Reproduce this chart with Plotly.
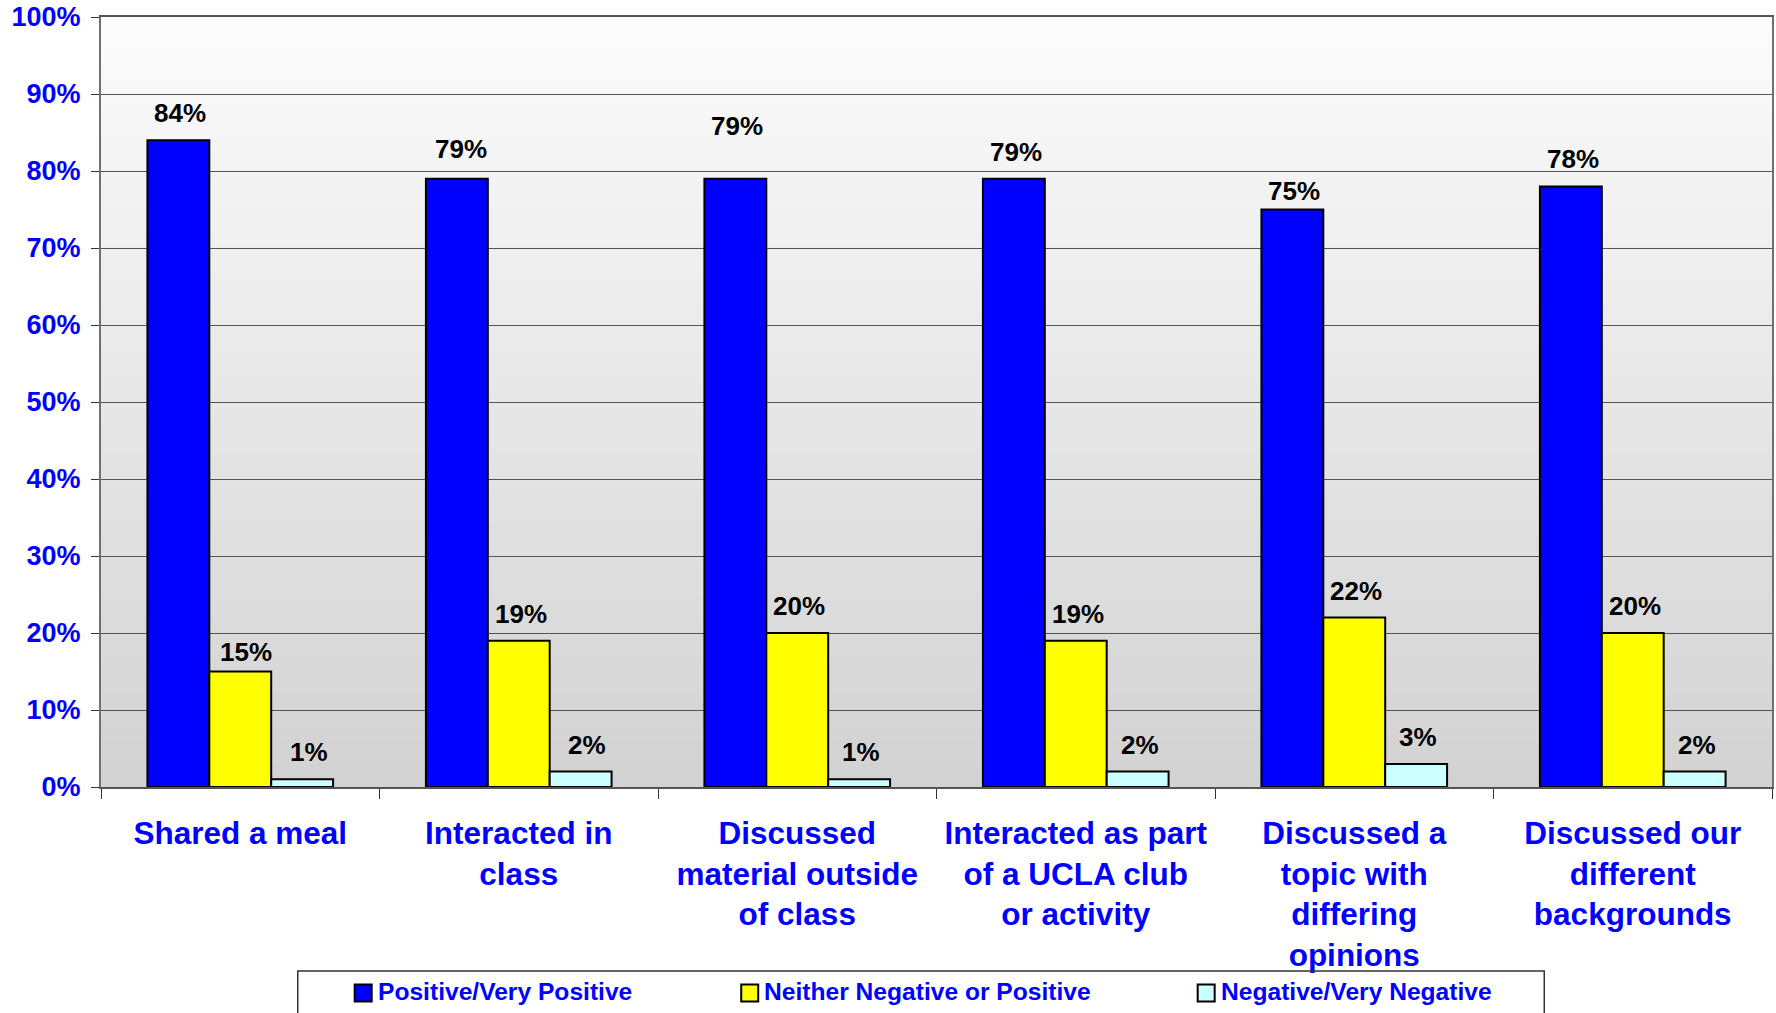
import plotly.graph_objects as go

# Survey responses: share of students per rating, by type of interaction
categories = [
    "Shared a meal",
    "Interacted in<br>class",
    "Discussed<br>material outside<br>of class",
    "Interacted as part<br>of a UCLA club<br>or activity",
    "Discussed a<br>topic with<br>differing<br>opinions",
    "Discussed our<br>different<br>backgrounds",
]
series_names = [
    "Positive/Very Positive",
    "Neither Negative or Positive",
    "Negative/Very Negative",
]
positive = [0.84, 0.79, 0.79, 0.79, 0.75, 0.78]
neither = [0.15, 0.19, 0.20, 0.19, 0.22, 0.20]
negative = [0.01, 0.02, 0.01, 0.02, 0.03, 0.02]
y_ticks = [0.0, 0.1, 0.2, 0.3, 0.4, 0.5, 0.6, 0.7, 0.8, 0.9, 1.0]

series_values = [positive, neither, negative]
series_colors = ["#0000FF", "#FFFF00", "#CCFFFF"]

FONT = "Liberation Sans, Arial, Helvetica, sans-serif"
BLUE_TEXT = "#0000FF"

W, H = 1776, 1013
M_L, M_R, M_T, M_B = 101, 2, 17, 226
PLOT_W = W - M_L - M_R
PLOT_H = H - M_T - M_B
BARGAP = 1 / 3

# Hand-placed value labels: (series, category) -> (dx, dy) in pixels
label_nudges = {
    (0, 1): (4, 3),
    (0, 2): (2, 26),
    (0, 4): (2, -8),
    (1, 0): (6, -7),
    (2, 0): (7, 0),
    (2, 1): (6, 0),
}


def px_to_paper_x(px):
    return (px - M_L) / PLOT_W


def px_to_paper_y(py):
    return (H - M_B - py) / PLOT_H


fig = go.Figure()

for name, vals, color in zip(series_names, series_values, series_colors):
    fig.add_trace(
        go.Bar(
            name=name,
            x=categories,
            y=vals,
            marker=dict(color=color, line=dict(color="#000000", width=2)),
            showlegend=False,
            hoverinfo="skip",
        )
    )

# Value labels above each bar
bar_w = (1 - BARGAP) / len(series_values)
annotations = []
for s, vals in enumerate(series_values):
    offset = (s - (len(series_values) - 1) / 2) * bar_w
    for i, v in enumerate(vals):
        dx, dy = label_nudges.get((s, i), (2, 0))
        annotations.append(
            dict(
                x=i + offset,
                y=v,
                xref="x",
                yref="y",
                text=f"{v:.0%}",
                showarrow=False,
                yanchor="middle",
                xshift=dx,
                yshift=27 + dy,
                font=dict(family=FONT, size=26, color="#000000", weight="bold"),
            )
        )

# Vertical gradient in the plotting area (white at top to light gray at bottom)
shapes = []
N_STRIPS = 64
top_level, bottom_level = 252, 210
for k in range(N_STRIPS):
    t = (k + 0.5) / N_STRIPS
    g = round(bottom_level + t * (top_level - bottom_level))
    shapes.append(
        dict(
            type="rect",
            xref="x domain",
            yref="y domain",
            x0=0,
            x1=1,
            y0=k / N_STRIPS,
            y1=1,
            fillcolor=f"rgb({g},{g},{g})",
            line=dict(width=0),
            layer="below",
        )
    )

# Legend drawn as a framed box with square swatches
legend_box = dict(x0=298, x1=1546, y0=971, y1=1040)
shapes.append(
    dict(
        type="rect",
        xref="paper",
        yref="paper",
        x0=px_to_paper_x(legend_box["x0"]),
        x1=px_to_paper_x(legend_box["x1"]),
        y0=px_to_paper_y(legend_box["y1"]),
        y1=px_to_paper_y(legend_box["y0"]),
        fillcolor="rgba(0,0,0,0)",
        line=dict(color="#333333", width=1.5),
        layer="above",
    )
)
legend_swatch_x = [355, 742, 1199]
swatch_size = 17
legend_mid_y = 993
for name, color, sx in zip(series_names, series_colors, legend_swatch_x):
    shapes.append(
        dict(
            type="rect",
            xref="paper",
            yref="paper",
            x0=px_to_paper_x(sx),
            x1=px_to_paper_x(sx + swatch_size),
            y0=px_to_paper_y(legend_mid_y + swatch_size / 2),
            y1=px_to_paper_y(legend_mid_y - swatch_size / 2),
            fillcolor=color,
            line=dict(color="#000000", width=2),
            layer="above",
        )
    )
    annotations.append(
        dict(
            x=px_to_paper_x(sx + swatch_size + 4),
            y=px_to_paper_y(legend_mid_y - 1),
            xref="paper",
            yref="paper",
            xanchor="left",
            yanchor="middle",
            text=name,
            showarrow=False,
            font=dict(family=FONT, size=24.6, color=BLUE_TEXT, weight="bold"),
        )
    )

fig.update_layout(
    width=W,
    height=H,
    margin=dict(l=M_L, r=M_R, t=M_T, b=M_B, pad=0),
    paper_bgcolor="#FFFFFF",
    plot_bgcolor="#FFFFFF",
    barmode="group",
    bargap=BARGAP,
    bargroupgap=0,
    showlegend=False,
    shapes=shapes,
    annotations=annotations,
    font=dict(family=FONT),
)

fig.update_xaxes(
    type="category",
    showgrid=False,
    showline=True,
    linecolor="#555555",
    linewidth=1.5,
    mirror=True,
    ticks="outside",
    tickson="boundaries",
    ticklen=10,
    tickwidth=1,
    tickcolor="#333333",
    ticklabelstandoff=17,
    tickfont=dict(family=FONT, size=31.5, color=BLUE_TEXT, weight="bold"),
    range=[-0.5, len(categories) - 0.5],
)

fig.update_yaxes(
    range=[0, 1],
    tickvals=y_ticks,
    tickformat=".0%",
    showgrid=True,
    gridcolor="#555555",
    gridwidth=1,
    showline=True,
    linecolor="#707070",
    linewidth=2,
    mirror=True,
    ticks="outside",
    ticklen=8,
    tickwidth=1,
    tickcolor="#333333",
    ticklabelstandoff=5,
    tickfont=dict(family=FONT, size=27, color=BLUE_TEXT, weight="bold"),
    zeroline=False,
)

fig.write_html("out.html")
